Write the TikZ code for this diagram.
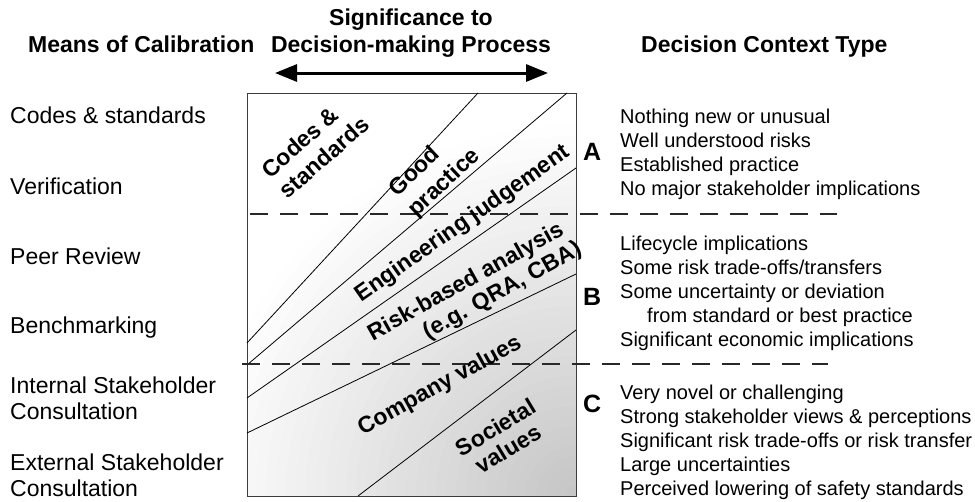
\documentclass[tikz,border=0pt]{standalone}
\usepackage{fontspec}
\setmainfont{Liberation Sans}
\usetikzlibrary{arrows.meta,positioning,calc}
\definecolor{dashcolor}{RGB}{40,40,40}
\definecolor{shadecolor}{RGB}{196,196,196}
\definecolor{framecolor}{RGB}{60,60,60}

\begin{document}
\begin{tikzpicture}[x=1pt,y=-1pt,
    calib/.style={anchor=base west,inner sep=0pt,align=left,
        font=\fontsize{23}{26}\selectfont},
    ctxtext/.style={anchor=base west,inner sep=0pt,align=left,
        font=\fontsize{20}{24}\selectfont},
    ctxletter/.style={anchor=base west,inner sep=0pt,
        font=\fontsize{25}{25}\selectfont\bfseries},
    heading/.style={inner sep=0pt,font=\fontsize{23}{27}\selectfont\bfseries},
    bandlabel/.style={inner sep=0pt,align=center,
        font=\fontsize{23}{25}\selectfont\bfseries},
    bandline/.style={black,line width=0.8pt},
    divider/.style={dashcolor,line width=1.1pt,dash pattern=on 18pt off 12pt}]

    \useasboundingbox (0,0) rectangle (975,501);

    % Headings (base of multi-line nodes = last line)
    \node[heading,anchor=base west] (calhead) at (28,52) {Means of Calibration};
    \node[heading,anchor=base,align=center] (sighead) at (411,52)
        {Significance to\\Decision-making Process};
    \node[heading,anchor=base west] (ctxhead) at (641,52) {Decision Context Type};

    % Significance arrow
    \coordinate (arrL) at (275,73);
    \coordinate (arrR) at (548,73);
    \draw[line width=3pt,{Triangle[length=22pt,width=17pt]}-{Triangle[length=22pt,width=17pt]}]
        (arrL) -- (arrR);

    % Box with rings of grey from the lower right corner
    \coordinate (boxNW) at (247,93);
    \coordinate (boxSE) at (576,496);
    \begin{scope}
        \clip (boxNW) rectangle (boxSE);
        \foreach \r in {38,37,...,1} {
            \pgfmathtruncatemacro\pct{100*(1-\r/38)}
            \fill[shadecolor!\pct!white] (boxSE) circle (\r*10pt);
        }
    \end{scope}
    \draw[framecolor,line width=0.9pt] (boxNW) rectangle (boxSE);

    % Band boundaries
    \coordinate (b1t) at (478,93);  \coordinate (b1b) at (247,343);
    \coordinate (b2t) at (567,93);  \coordinate (b2b) at (247,365);
    \coordinate (b3t) at (576,168); \coordinate (b3b) at (247,398);
    \coordinate (b4t) at (576,274); \coordinate (b4b) at (247,433);
    \coordinate (b5t) at (576,330); \coordinate (b5b) at (358,496);
    \foreach \i in {1,...,5} {
        \draw[bandline] (b\i t) -- (b\i b);
    }

    % Context dividers
    \coordinate (divAs) at (250,214); \coordinate (divAe) at (837,214);
    \coordinate (divBs) at (242,364); \coordinate (divBe) at (828,364);
    \draw[divider] (divAs) -- (divAe);
    \draw[divider] (divBs) -- (divBe);

    % Band labels
    \node[bandlabel,rotate=41,align=left,font=\fontsize{23}{27}\selectfont\bfseries]
        (codes) at (315,147) {Codes \&\\standards};
    \node[bandlabel,rotate=43,align=left,font=\fontsize{23}{28}\selectfont\bfseries]
        (good) at (435,173) {Good\\practice};
    \node[bandlabel,rotate=35] (eng) at (463,224) {Engineering judgement};
    \node[bandlabel,rotate=29,align=left] (risk) at (475,292)
        {Risk-based analysis\\\hspace*{49pt}(e.g. QRA, CBA)};
    \node[bandlabel,rotate=29] (company) at (440,386) {Company values};
    \node[bandlabel,rotate=31] (societal) at (502,438) {Societal\\values};

    % Means of calibration
    \node[calib] (cal1) at (10,123) {Codes \& standards};
    \node[calib] (cal2) at (10,194) {Verification};
    \node[calib] (cal3) at (10,264) {Peer Review};
    \node[calib] (cal4) at (10,333) {Benchmarking};
    \node[calib] (cal5) at (10,419) {Internal Stakeholder\\Consultation};
    \node[calib] (cal6) at (10,496) {External Stakeholder\\Consultation};

    % Decision context types
    \node[ctxletter] (ltrA) at (583,160) {A};
    \node[ctxtext] (ctxA) at (620,195) {Nothing new or unusual\\Well understood risks\\
        Established practice\\No major stakeholder implications};
    \node[ctxletter] (ltrB) at (583,305) {B};
    \node[ctxtext] (ctxB) at (620,346) {Lifecycle implications\\Some risk trade-offs/transfers\\
        Some uncertainty or deviation\\\hspace*{27pt}from standard or best practice\\
        Significant economic implications};
    \node[ctxletter] (ltrC) at (583,412) {C};
    \node[ctxtext] (ctxC) at (620,495) {Very novel or challenging\\Strong stakeholder views \& perceptions\\
        Significant risk trade-offs or risk transfer\\Large uncertainties\\
        Perceived lowering of safety standards};
\end{tikzpicture}
\end{document}
